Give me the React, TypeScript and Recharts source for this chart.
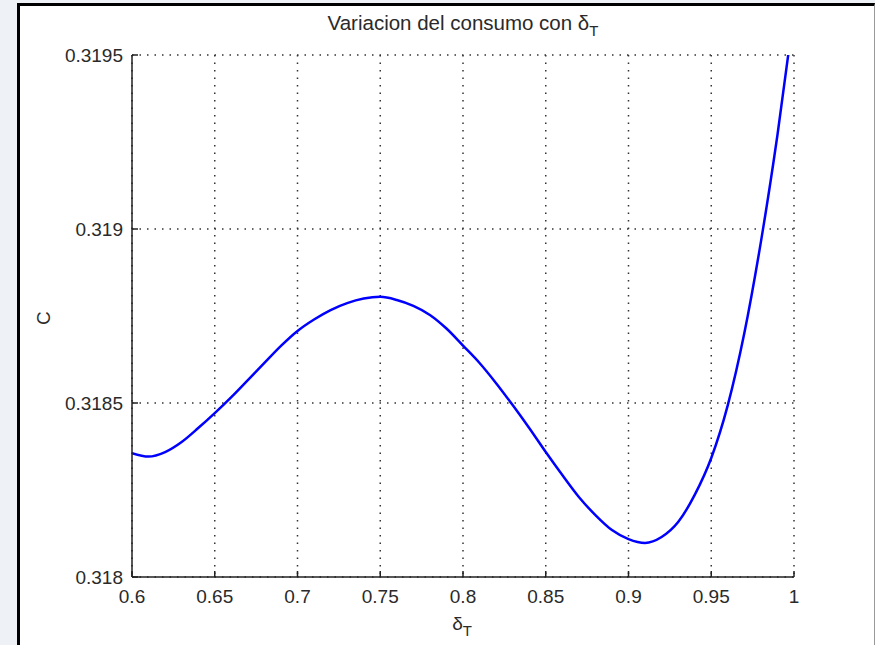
import { LineChart, Line, XAxis, YAxis, CartesianGrid } from 'recharts';

// delta_T values (x) and consumption C (y)
const deltaT = [
  0.6, 0.61, 0.62, 0.63, 0.64, 0.65, 0.66, 0.67, 0.68, 0.69,
  0.7, 0.71, 0.72, 0.73, 0.74, 0.75, 0.76, 0.77, 0.78, 0.79,
  0.8, 0.81, 0.82, 0.83, 0.84, 0.85, 0.86, 0.87, 0.88, 0.89,
  0.9, 0.91, 0.92, 0.93, 0.94, 0.95, 0.96, 0.97, 0.98, 0.99, 1.0,
];
const consumo = [
  0.318356, 0.318346, 0.318359, 0.318388, 0.318428, 0.318471, 0.318517, 0.318566, 0.318615, 0.318664,
  0.318707, 0.31874, 0.318767, 0.318787, 0.3188, 0.318805, 0.318796, 0.318779, 0.318753, 0.318714,
  0.318665, 0.318615, 0.318557, 0.318494, 0.318428, 0.318359, 0.318293, 0.31823, 0.318178, 0.318135,
  0.318109, 0.318098, 0.318115, 0.318158, 0.318236, 0.318342, 0.318494, 0.318701, 0.318963, 0.31927, 0.319624,
];
const xTicks = [0.6, 0.65, 0.7, 0.75, 0.8, 0.85, 0.9, 0.95, 1];
const yTicks = [0.318, 0.3185, 0.319, 0.3195];

const data = deltaT.map((d, i) => ({ d, c: consumo[i] }));

const FONT = 'Arial, "Liberation Sans", Helvetica, sans-serif';
const INK = '#2a2a2a';

const XTick = ({ x, y, payload }: any) => (
  <g>
    <line x1={x} x2={x} y1={y} y2={y - 6} stroke="#222" strokeWidth={1.5} />
    <text x={x} y={y + 26} textAnchor="middle" fontSize={19} fill={INK} fontFamily={FONT}>
      {String(payload.value)}
    </text>
  </g>
);

const YTick = ({ x, y, payload }: any) => (
  <g>
    <line x1={x} x2={x + 6} y1={y} y2={y} stroke="#222" strokeWidth={1.5} />
    <text x={x - 9} y={y} textAnchor="end" dominantBaseline="central" fontSize={19} fill={INK} fontFamily={FONT}>
      {String(payload.value)}
    </text>
  </g>
);

export default function App() {
  return (
    <div style={{ position: 'absolute', left: 0, top: 0, width: 875, height: 645, background: '#eef2f7', overflow: 'hidden' }}>
      <div
        style={{
          position: 'absolute',
          left: 17,
          top: 3,
          width: 854,
          height: 660,
          background: '#fff',
          borderLeft: '3px solid #000',
          borderTop: '3px solid #000',
          borderRight: '1px solid #999',
        }}
      />
      <div style={{ position: 'absolute', left: 0, top: 0 }}>
        <LineChart width={875} height={645} data={data} margin={{ top: 55, right: 81, bottom: 0, left: 0 }}>
          <CartesianGrid stroke="#333" strokeWidth={1.5} strokeDasharray="1.5 6" />
          <XAxis
            dataKey="d"
            type="number"
            domain={[0.6, 1]}
            ticks={xTicks}
            height={68}
            tickSize={0}
            tickMargin={0}
            tick={<XTick />}
            axisLine={{ stroke: '#222', strokeWidth: 1.5 }}
            allowDataOverflow
          />
          <YAxis
            type="number"
            domain={[0.318, 0.3195]}
            ticks={yTicks}
            width={132}
            tickSize={0}
            tickMargin={0}
            tick={<YTick />}
            axisLine={{ stroke: '#222', strokeWidth: 1.5 }}
            allowDataOverflow
          />
          <Line
            dataKey="c"
            type="monotone"
            stroke="#0000ff"
            strokeWidth={2.5}
            dot={false}
            isAnimationActive={false}
          />
        </LineChart>
      </div>
      <svg width={875} height={645} style={{ position: 'absolute', left: 0, top: 0, pointerEvents: 'none' }}>
        <text x={463} y={30} textAnchor="middle" fontSize={20.5} fill={INK} fontFamily={FONT}>
          Variacion del consumo con δ
          <tspan fontSize={15} dy={6}>T</tspan>
        </text>
        <text x={50} y={318} textAnchor="middle" fontSize={19} fill={INK} fontFamily={FONT} transform="rotate(-90 50 318)">
          C
        </text>
        <text x={462} y={630} textAnchor="middle" fontSize={19} fill={INK} fontFamily={FONT}>
          δ<tspan fontSize={15} dy={6}>T</tspan>
        </text>
      </svg>
    </div>
  );
}
